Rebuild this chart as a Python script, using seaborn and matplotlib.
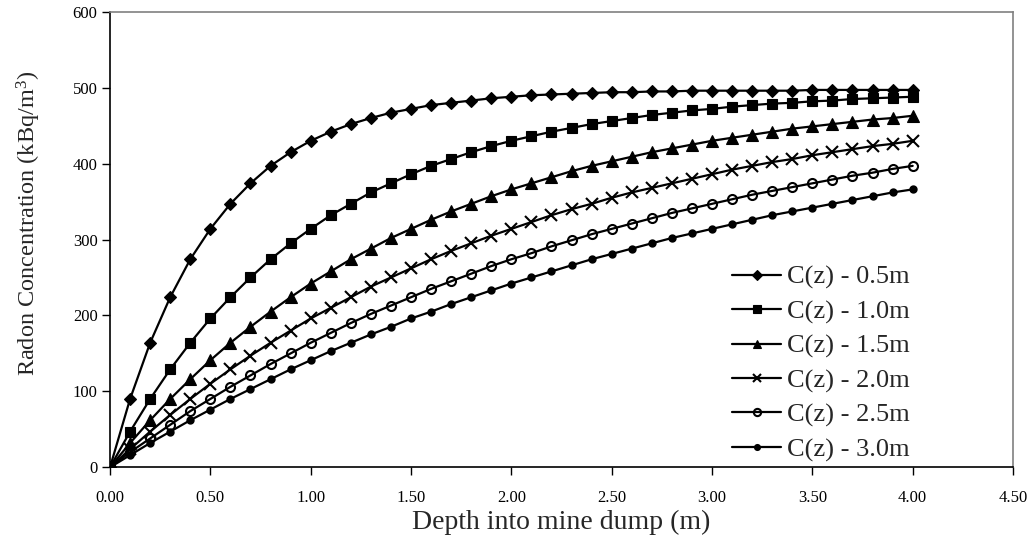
"""Radon concentration vs depth into a mine dump, for several diffusion lengths."""

import matplotlib
matplotlib.use("Agg")
import matplotlib.pyplot as plt
import numpy as np
import pandas as pd
import seaborn as sns

depth = [round(0.1 * i, 1) for i in range(41)]

c_05 = [0, 90, 164, 224, 274, 314, 347, 374, 397, 415, 430, 442, 452, 460, 467, 472,
        477, 480, 483, 486, 488, 490, 491, 492, 493, 494, 494, 495, 495, 496, 496,
        496, 496, 496, 496, 497, 497, 497, 497, 497, 497]
c_10 = [0, 47, 90, 129, 164, 196, 224, 250, 274, 295, 314, 332, 347, 362, 374, 386,
        397, 406, 415, 423, 430, 436, 442, 447, 452, 456, 460, 464, 467, 470, 472,
        475, 477, 479, 480, 482, 483, 485, 486, 487, 488]
c_15 = [0, 32, 62, 90, 116, 141, 164, 185, 205, 224, 242, 258, 274, 288, 302, 314,
        326, 337, 347, 357, 366, 374, 382, 390, 397, 403, 409, 415, 420, 425, 430,
        434, 438, 442, 446, 449, 452, 455, 458, 460, 463]
c_20 = [0, 24, 47, 69, 90, 110, 129, 147, 164, 180, 196, 210, 224, 238, 250, 262,
        274, 285, 295, 305, 314, 323, 332, 340, 347, 355, 362, 368, 374, 380, 386,
        392, 397, 402, 406, 411, 415, 419, 423, 426, 430]
c_25 = [0, 20, 38, 56, 74, 90, 106, 121, 136, 150, 164, 177, 190, 202, 213, 224,
        235, 245, 255, 265, 274, 282, 291, 299, 307, 314, 321, 328, 335, 341, 347,
        353, 359, 364, 369, 374, 379, 384, 388, 393, 397]
c_30 = [0, 16, 32, 47, 62, 76, 90, 103, 116, 129, 141, 153, 164, 175, 185, 196,
        205, 215, 224, 233, 242, 250, 258, 266, 274, 281, 288, 295, 302, 308, 314,
        320, 326, 332, 337, 342, 347, 352, 357, 362, 366]

labels = ["C(z) - 0.5m", "C(z) - 1.0m", "C(z) - 1.5m",
          "C(z) - 2.0m", "C(z) - 2.5m", "C(z) - 3.0m"]
series = [c_05, c_10, c_15, c_20, c_25, c_30]

sns.set_theme(style="white")
plt.rcParams["font.family"] = ["Liberation Serif", "DejaVu Serif"]
plt.rcParams["mathtext.fontset"] = "custom"
plt.rcParams["mathtext.rm"] = "Liberation Serif"
plt.rcParams["mathtext.it"] = "Liberation Serif:italic"

frames = [pd.DataFrame({"depth": depth, "conc": vals, "series": lab})
          for lab, vals in zip(labels, series)]
df = pd.concat(frames, ignore_index=True)

# marker style per series: (marker, size, facecolor)
styles = {
    labels[0]: ("D", 6.5, "black"),
    labels[1]: ("s", 7.5, "black"),
    labels[2]: ("^", 8, "black"),
    labels[3]: ("x", 8, "black"),
    labels[4]: ("o", 6.5, "none"),
    labels[5]: ("o", 4.5, "black"),
}

fig = plt.figure(figsize=(10.32, 5.40), dpi=100)
ax = fig.add_axes([0.1066, 0.1346, 0.8750, 0.8437])

for lab in labels:
    marker, ms, fc = styles[lab]
    sns.lineplot(data=df[df["series"] == lab], x="depth", y="conc", ax=ax,
                 color="black", linewidth=1.6, marker=marker, markersize=ms,
                 markerfacecolor=fc, markeredgecolor="black",
                 markeredgewidth=1.5 if marker in ("x", "o") else 0.8,
                 label=lab)

ax.set_xlim(0, 4.5)
ax.set_ylim(0, 600)
ax.set_xticks(np.arange(0, 4.51, 0.5))
ax.set_xticklabels([f"{t:.2f}" for t in np.arange(0, 4.51, 0.5)])
ax.set_yticks(range(0, 601, 100))
ax.tick_params(axis="both", direction="out", length=6, width=1, colors="black",
               labelsize=12, left=True, bottom=True)
ax.tick_params(axis="x", pad=10)
ax.tick_params(axis="y", pad=3)

for side in ("left", "bottom"):
    ax.spines[side].set_color("black")
    ax.spines[side].set_linewidth(1.2)
for side in ("top", "right"):
    ax.spines[side].set_color("#808080")
    ax.spines[side].set_linewidth(1.2)

ax.set_xlabel("Depth into mine dump (m)", fontsize=20)
ax.set_ylabel("Radon Concentration (kBq/m$^{3}$)", fontsize=17.5)
ax.xaxis.set_label_coords(0.5, -0.093)
ax.yaxis.set_label_coords(-0.074, 0.536)

ax.legend(loc="center left", bbox_to_anchor=(0.689, 0.228), frameon=False,
          fontsize=19, handlelength=1.86, handletextpad=0.23, labelspacing=0.4,
          borderpad=0, borderaxespad=0, markerscale=0.8)

fig.savefig("out.png", dpi=100)
